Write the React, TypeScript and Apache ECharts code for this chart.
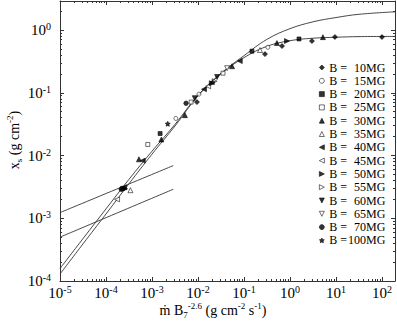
import React, { useEffect, useRef } from 'react';
import * as echarts from 'echarts';

const FONT = '"Liberation Serif", "Times New Roman", serif';

// axis ranges and tick labels
const X_MIN = 1e-5;
const X_MAX = 192;
const Y_MIN = 1e-4;
const Y_MAX = 2.9;
const X_MAJOR = [1e-5, 1e-4, 1e-3, 1e-2, 1e-1, 1e0, 1e1, 1e2];
const Y_MAJOR = [1e-4, 1e-3, 1e-2, 1e-1, 1e0];

// model curves
const CURVE_X = [1e-5, 3.16e-5, 1e-4, 3.16e-4, 1e-3, 3.16e-3, 1e-2, 3.16e-2, 0.1, 0.316, 1, 3.16, 10, 31.6, 192];
const CURVE_LOW_Y = [1.29e-4, 3.9e-4, 1.17e-3, 3.55e-3, 1.05e-2, 2.95e-2, 8.9e-2, 0.2, 0.363, 0.55, 0.676, 0.74, 0.767, 0.785, 0.79];
const CURVE_HIGH_Y = [1.58e-4, 4.73e-4, 1.41e-3, 4.17e-3, 1.17e-2, 3.13e-2, 9.1e-2, 0.204, 0.39, 0.71, 1.05, 1.35, 1.58, 1.78, 1.95];
const SHALLOW_X = [1e-5, 2.9e-3];
const SHALLOW_A_Y = [1.23e-3, 6.9e-3];
const SHALLOW_B_Y = [5.0e-4, 2.9e-3];

// measured points per field strength
const B_NAMES = ['10MG', '15MG', '20MG', '25MG', '30MG', '35MG', '40MG', '45MG', '50MG', '55MG', '60MG', '65MG', '70MG', '100MG'];
const B10 = [[9.5e-3, 0.071], [0.286, 0.413], [0.67, 0.555], [3.0, 0.667], [9.5, 0.773], [100, 0.773]];
const B15 = [[3.3e-3, 0.039], [0.0105, 0.095], [0.33, 0.53]];
const B20 = [[2.3e-4, 3.0e-3], [1.5e-3, 0.0224], [0.149, 0.46], [1.57, 0.72]];
const B25 = [[8.1e-4, 0.015], [7.1e-3, 0.071], [0.035, 0.205]];
const B30 = [[5.2e-4, 8.7e-3], [1.6e-3, 0.018], [5.2e-3, 0.044], [0.055, 0.265], [0.52, 0.62], [5.2, 0.77]];
const B35 = [[3.4e-4, 2.8e-3], [0.223, 0.48]];
const B40 = [[2.46e-4, 3.1e-3], [6.3e-4, 8.3e-3], [0.0135, 0.114], [0.081, 0.32]];
const B45 = [[1.74e-4, 2.0e-3], [0.0166, 0.127]];
const B50 = [[2.6e-4, 2.95e-3], [0.02, 0.142], [0.86, 0.667]];
const B55 = [[0.023, 0.153]];
const B60 = [[8.5e-3, 0.082], [0.026, 0.178]];
const B65 = [[0.043, 0.246]];
const B70 = [[2.14e-4, 2.9e-3], [5.5e-3, 0.068]];
const B100 = [[2.2e-3, 0.032], [0.021, 0.147]];
const B_DATA = [B10, B15, B20, B25, B30, B35, B40, B45, B50, B55, B60, B65, B70, B100];

const STAR = 'path://M0,-10 L2.9,-4 L9.5,-3.1 L4.7,1.5 L5.9,8.1 L0,5 L-5.9,8.1 L-4.7,1.5 L-9.5,-3.1 L-2.9,-4 Z';
const TRI_LEFT = 'path://M0,5 L10,0 L10,10 Z';
const TRI_RIGHT = 'path://M10,5 L0,0 L0,10 Z';
const TRI_DOWN = 'path://M0,0 L10,0 L5,10 Z';
const MARKERS = [
  { symbol: 'diamond', filled: true, size: 5 },
  { symbol: 'circle', filled: false, size: 4 },
  { symbol: 'rect', filled: true, size: 4 },
  { symbol: 'rect', filled: false, size: 4 },
  { symbol: 'triangle', filled: true, size: 5 },
  { symbol: 'triangle', filled: false, size: 5 },
  { symbol: TRI_LEFT, filled: true, size: 5 },
  { symbol: TRI_LEFT, filled: false, size: 5 },
  { symbol: TRI_RIGHT, filled: true, size: 5 },
  { symbol: TRI_RIGHT, filled: false, size: 5 },
  { symbol: TRI_DOWN, filled: true, size: 5 },
  { symbol: TRI_DOWN, filled: false, size: 5 },
  { symbol: 'circle', filled: true, size: 4.5 },
  { symbol: STAR, filled: true, size: 5 },
];

function minors(majors: number[], lo: number, hi: number) {
  const out: number[] = [];
  const start = majors[0] / 10;
  for (let d = start; d <= hi * 10; d *= 10) {
    for (let k = 2; k <= 9; k++) {
      const v = d * k;
      if (v > lo && v < hi) out.push(v);
    }
  }
  return out;
}

const expLabel = (v: number) => {
  const e = Math.round(Math.log10(v));
  return `{b|10}{e|${e}}`;
};
const labelRich = {
  b: { fontFamily: FONT, fontSize: 15, color: '#000', lineHeight: 17 },
  e: { fontFamily: FONT, fontSize: 10, color: '#000', verticalAlign: 'top', lineHeight: 11 },
};

export default function App() {
  const ref = useRef<HTMLDivElement>(null);
  useEffect(() => {
    if (!ref.current) return;
    const chart = echarts.init(ref.current, undefined, { renderer: 'svg' });
    const axisColor = '#333';
    const X_MINOR = minors(X_MAJOR, X_MIN, X_MAX);
    const Y_MINOR = minors(Y_MAJOR, Y_MIN, Y_MAX);

    const mkX = (pos: string, major: boolean, withLabel: boolean, showLine: boolean) => ({
      type: 'log', min: X_MIN, max: X_MAX, position: pos, gridIndex: 0,
      axisLine: { show: showLine, onZero: false, lineStyle: { color: axisColor, width: 1 } },
      axisTick: { show: true, inside: true, length: major ? 4 : 2, customValues: major ? X_MAJOR : X_MINOR, lineStyle: { color: axisColor, width: 1 } },
      axisLabel: withLabel ? { show: true, customValues: X_MAJOR, formatter: expLabel, rich: labelRich, fontFamily: FONT, fontSize: 15, color: '#000', margin: 3 } : { show: false },
      splitLine: { show: false },
      minorTick: { show: false },
    });
    const mkY = (pos: string, major: boolean, withLabel: boolean, showLine: boolean) => ({
      type: 'log', min: Y_MIN, max: Y_MAX, position: pos, gridIndex: 0,
      axisLine: { show: showLine, onZero: false, lineStyle: { color: axisColor, width: 1 } },
      axisTick: { show: true, inside: true, length: major ? 4 : 2, customValues: major ? Y_MAJOR : Y_MINOR, lineStyle: { color: axisColor, width: 1 } },
      axisLabel: withLabel ? { show: true, customValues: Y_MAJOR, formatter: expLabel, rich: labelRich, fontFamily: FONT, fontSize: 15, color: '#000', margin: 9 } : { show: false },
      splitLine: { show: false },
      minorTick: { show: false },
    });

    const scatterSeries = B_NAMES.map((n, i) => {
      const m = MARKERS[i];
      return {
        name: 'B = ' + n,
        type: 'scatter',
        xAxisIndex: 0,
        yAxisIndex: 0,
        data: B_DATA[i],
        symbol: m.symbol,
        symbolSize: m.size,
        itemStyle: { color: m.filled ? '#000' : '#fff', borderColor: '#000', borderWidth: 0.7 },
        z: 5,
      };
    });

    const lineSeries = [
      { data: CURVE_X.map((x, i) => [x, CURVE_HIGH_Y[i]]) },
      { data: CURVE_X.map((x, i) => [x, CURVE_LOW_Y[i]]) },
      { data: SHALLOW_X.map((x, i) => [x, SHALLOW_A_Y[i]]) },
      { data: SHALLOW_X.map((x, i) => [x, SHALLOW_B_Y[i]]) },
    ].map((l) => ({
      type: 'line', xAxisIndex: 0, yAxisIndex: 0, data: l.data, showSymbol: false, symbol: 'none',
      smooth: 0.4, lineStyle: { color: '#333', width: 0.9 }, z: 2, silent: true,
    }));

    const txt = { fontFamily: FONT, fontSize: 14, fill: '#000', color: '#000', lineHeight: 18 };
    const small = { fontFamily: FONT, fontSize: 9, fill: '#000', color: '#000' };

    chart.setOption({
      animation: false,
      backgroundColor: '#fff',
      grid: { left: 60, right: 2, top: 1, bottom: 41, containLabel: false },
      xAxis: [mkX('bottom', true, true, true), mkX('bottom', false, false, false), mkX('top', true, false, true), mkX('top', false, false, false)],
      yAxis: [mkY('left', true, true, true), mkY('left', false, false, false), mkY('right', true, false, true), mkY('right', false, false, false)],
      legend: {
        orient: 'vertical',
        left: 319,
        top: 61,
        padding: 0,
        itemGap: 0.3,
        itemWidth: 5,
        itemHeight: 5,
        itemStyle: { borderWidth: 0.7 },
        data: B_NAMES.map((n) => 'B = ' + n),
        formatter: (name: string) => `{a|B =}{b|${name.replace('B = ', '')}}`,
        textStyle: {
          fontFamily: FONT, fontSize: 12, color: '#000', lineHeight: 13,
          rich: {
            a: { fontFamily: FONT, fontSize: 12, color: '#000', width: 17, lineHeight: 13 },
            b: { fontFamily: FONT, fontSize: 12, color: '#000', width: 39, align: 'right', lineHeight: 13 },
          },
        },
        selectedMode: false,
      },
      graphic: [
        {
          type: 'text',
          x: 14,
          y: 140,
          rotation: Math.PI / 2,
          style: {
            text: '{t|x}{sub|s}{t| (g cm}{sup|-2}{t|)}',
            align: 'center',
            verticalAlign: 'middle',
            rich: {
              t: txt,
              sub: { ...small, verticalAlign: 'bottom', lineHeight: 18 },
              sup: { ...small, verticalAlign: 'top', lineHeight: 14 },
            },
          },
        },
        {
          type: 'text',
          x: 213,
          y: 310,
          style: {
            text: '{t|\u1E41 B}{sub|7}{sup|-2.6}{t| (g cm}{sup|-2}{t| s}{sup|-1}{t|)}',
            align: 'center',
            verticalAlign: 'middle',
            rich: {
              t: txt,
              sub: { ...small, verticalAlign: 'bottom', lineHeight: 18 },
              sup: { ...small, verticalAlign: 'top', lineHeight: 14 },
            },
          },
        },
      ],
      series: [...lineSeries, ...scatterSeries],
    });
    return () => chart.dispose();
  }, []);
  return <div ref={ref} style={{ position: 'fixed', left: 0, top: 0, width: 397, height: 322 }} />;
}
